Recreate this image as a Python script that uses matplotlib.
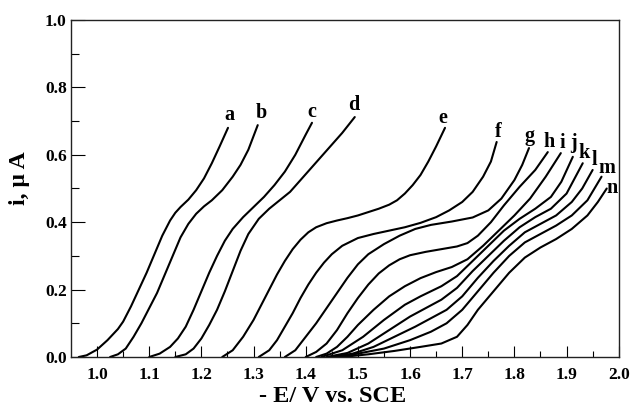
import matplotlib
matplotlib.use("Agg")
import matplotlib.pyplot as plt

# Polarographic waves a-n (potential in -V vs SCE, current in uA)
a_x = [0.965, 0.98, 1.0, 1.02, 1.04, 1.05, 1.065, 1.08, 1.095, 1.11, 1.125, 1.14, 1.15, 1.16, 1.175, 1.19,
       1.205, 1.22, 1.235, 1.251]
a_y = [0.0, 0.005, 0.022, 0.05, 0.083, 0.105, 0.15, 0.2, 0.25, 0.305, 0.36, 0.405, 0.428, 0.445, 0.467, 0.495,
       0.53, 0.575, 0.625, 0.68]

b_x = [1.025, 1.04, 1.055, 1.07, 1.085, 1.10, 1.115, 1.13, 1.145, 1.16, 1.175, 1.19, 1.205, 1.22, 1.24, 1.26,
       1.275, 1.29, 1.308]
b_y = [0.0, 0.008, 0.025, 0.06, 0.1, 0.145, 0.19, 0.245, 0.3, 0.355, 0.395, 0.425, 0.447, 0.465, 0.495, 0.535,
       0.57, 0.615, 0.688]

c_x = [1.10, 1.12, 1.14, 1.155, 1.17, 1.185, 1.20, 1.215, 1.23, 1.245, 1.26, 1.28, 1.30, 1.32, 1.34, 1.36,
       1.38, 1.40, 1.412]
c_y = [0.0, 0.01, 0.03, 0.055, 0.09, 0.14, 0.195, 0.25, 0.3, 0.345, 0.38, 0.415, 0.445, 0.475, 0.51, 0.55,
       0.6, 0.66, 0.695]

d_x = [1.15, 1.17, 1.185, 1.20, 1.215, 1.23, 1.245, 1.26, 1.275, 1.29, 1.31, 1.33, 1.35, 1.37, 1.39, 1.41,
       1.43, 1.45, 1.47, 1.494]
d_y = [0.0, 0.008, 0.025, 0.055, 0.095, 0.14, 0.195, 0.255, 0.315, 0.365, 0.41, 0.44, 0.465, 0.49, 0.525, 0.56,
       0.595, 0.63, 0.665, 0.712]

e_x = [1.24, 1.26, 1.28, 1.30, 1.315, 1.33, 1.345, 1.36, 1.375, 1.39, 1.405, 1.42, 1.44, 1.46, 1.48, 1.50,
       1.52, 1.54, 1.56, 1.575, 1.59, 1.605, 1.62, 1.635, 1.65, 1.667]
e_y = [0.0, 0.02, 0.06, 0.11, 0.155, 0.2, 0.245, 0.285, 0.32, 0.348, 0.37, 0.385, 0.397, 0.405, 0.412, 0.42,
       0.43, 0.44, 0.452, 0.465, 0.485, 0.51, 0.54, 0.58, 0.625, 0.68]

f_x = [1.31, 1.33, 1.345, 1.36, 1.375, 1.39, 1.405, 1.42, 1.435, 1.45, 1.47, 1.50, 1.53, 1.56, 1.59, 1.62,
       1.65, 1.675, 1.70, 1.72, 1.74, 1.755, 1.766]
f_y = [0.0, 0.02, 0.05, 0.09, 0.13, 0.175, 0.215, 0.25, 0.28, 0.305, 0.33, 0.353, 0.365, 0.375, 0.385, 0.398,
       0.415, 0.435, 0.46, 0.49, 0.535, 0.58, 0.638]

g_x = [1.36, 1.38, 1.40, 1.42, 1.44, 1.46, 1.48, 1.50, 1.52, 1.55, 1.58, 1.61, 1.64, 1.68, 1.72, 1.75,
       1.775, 1.80, 1.815, 1.828]
g_y = [0.0, 0.02, 0.06, 0.1, 0.145, 0.19, 0.235, 0.275, 0.305, 0.335, 0.36, 0.38, 0.392, 0.402, 0.414, 0.435,
       0.47, 0.525, 0.57, 0.62]

h_x = [1.40, 1.42, 1.44, 1.46, 1.48, 1.50, 1.52, 1.54, 1.56, 1.58, 1.60, 1.63, 1.66, 1.69, 1.71, 1.73,
       1.755, 1.78, 1.81, 1.84, 1.864]
h_y = [0.0, 0.015, 0.04, 0.08, 0.13, 0.175, 0.215, 0.248, 0.272, 0.29, 0.302, 0.312, 0.32, 0.328, 0.338, 0.36,
       0.4, 0.45, 0.505, 0.555, 0.608]

i_x = [1.42, 1.44, 1.46, 1.48, 1.50, 1.53, 1.56, 1.59, 1.62, 1.65, 1.68, 1.71, 1.74, 1.77, 1.80, 1.83,
       1.86, 1.889]
i_y = [0.0, 0.01, 0.03, 0.06, 0.095, 0.14, 0.18, 0.21, 0.234, 0.252, 0.267, 0.29, 0.33, 0.375, 0.42, 0.47,
       0.535, 0.605]

j_x = [1.43, 1.47, 1.51, 1.55, 1.59, 1.62, 1.66, 1.69, 1.72, 1.75, 1.78, 1.81, 1.84, 1.87, 1.89, 1.912]
j_y = [0.0, 0.02, 0.06, 0.11, 0.155, 0.18, 0.21, 0.24, 0.285, 0.33, 0.375, 0.41, 0.44, 0.475, 0.52, 0.594]

k_x = [1.44, 1.48, 1.52, 1.56, 1.60, 1.63, 1.66, 1.69, 1.72, 1.75, 1.78, 1.81, 1.84, 1.87, 1.90, 1.931]
k_y = [0.0, 0.012, 0.04, 0.08, 0.12, 0.145, 0.17, 0.205, 0.255, 0.3, 0.345, 0.385, 0.415, 0.44, 0.485, 0.575]

l_x = [1.45, 1.49, 1.53, 1.57, 1.61, 1.64, 1.67, 1.70, 1.73, 1.76, 1.79, 1.82, 1.85, 1.88, 1.91, 1.93, 1.95]
l_y = [0.0, 0.01, 0.03, 0.06, 0.09, 0.115, 0.14, 0.18, 0.235, 0.285, 0.33, 0.37, 0.395, 0.42, 0.46, 0.5, 0.555]

m_x = [1.46, 1.50, 1.55, 1.60, 1.64, 1.67, 1.70, 1.73, 1.76, 1.79, 1.82, 1.85, 1.88, 1.91, 1.94, 1.967]
m_y = [0.0, 0.01, 0.025, 0.05, 0.075, 0.1, 0.14, 0.195, 0.25, 0.3, 0.34, 0.365, 0.39, 0.42, 0.465, 0.535]

n_x = [1.47, 1.52, 1.57, 1.62, 1.66, 1.69, 1.71, 1.73, 1.76, 1.79, 1.82, 1.85, 1.88, 1.91, 1.94, 1.96, 1.977]
n_y = [0.0, 0.008, 0.018, 0.03, 0.04, 0.06, 0.095, 0.14, 0.195, 0.25, 0.295, 0.325, 0.35, 0.38, 0.42, 0.46, 0.5]

curves = [("a", a_x, a_y), ("b", b_x, b_y), ("c", c_x, c_y), ("d", d_x, d_y), ("e", e_x, e_y),
          ("f", f_x, f_y), ("g", g_x, g_y), ("h", h_x, h_y), ("i", i_x, i_y), ("j", j_x, j_y),
          ("k", k_x, k_y), ("l", l_x, l_y), ("m", m_x, m_y), ("n", n_x, n_y)]

# where each letter sits (baseline, data coords)
label_x = [1.253, 1.314, 1.412, 1.492, 1.663, 1.770, 1.830, 1.866, 1.891, 1.914, 1.933, 1.954, 1.977, 1.987]
label_y = [0.703, 0.709, 0.712, 0.733, 0.694, 0.653, 0.641, 0.623, 0.620, 0.620, 0.591, 0.570, 0.546, 0.487]

x_ticks = [1.0, 1.1, 1.2, 1.3, 1.4, 1.5, 1.6, 1.7, 1.8, 1.9, 2.0]
y_ticks = [0.0, 0.2, 0.4, 0.6, 0.8, 1.0]

plt.rcParams["font.family"] = ["Liberation Serif", "DejaVu Serif"]
plt.rcParams["font.weight"] = "bold"

fig = plt.figure(figsize=(6.32, 4.08), dpi=100)
ax = fig.add_axes([0.1123, 0.125, 0.8667, 0.826])

for (name, xs, ys), lx, ly in zip(curves, label_x, label_y):
    ax.plot(xs, ys, color="black", lw=1.5, solid_joinstyle="round", solid_capstyle="round")
    ax.text(lx, ly, name, ha="center", va="baseline", fontsize=14.5, fontweight="bold")

ax.set_xlim(0.95, 2.0)
ax.set_ylim(0.0, 1.0)
ax.set_xticks(x_ticks)
ax.set_xticklabels([f"{t:.1f}" for t in x_ticks])
ax.set_xticks([1.05 + 0.1 * i for i in range(10)], minor=True)
ax.set_yticks(y_ticks)
ax.set_yticklabels([f"{t:.1f}" for t in y_ticks])
ax.set_yticks([0.1, 0.3, 0.5, 0.7, 0.9], minor=True)

ax.tick_params(axis="x", which="major", direction="in", length=8, width=0.8, pad=7, labelsize=12.5)
ax.tick_params(axis="x", which="minor", direction="in", length=4, width=0.8)
ax.tick_params(axis="y", which="major", direction="in", length=10, width=0.8, pad=3, labelsize=12.5)
ax.tick_params(axis="y", which="minor", direction="in", length=6, width=0.8)
for lab in ax.get_xticklabels() + ax.get_yticklabels():
    lab.set_fontweight("bold")

for side in ["top", "right", "left", "bottom"]:
    ax.spines[side].set_linewidth(1.0)
    ax.spines[side].set_color("#222222")

ax.set_xlabel("- E/ V vs. SCE", fontsize=17.5, fontweight="bold")
ax.xaxis.set_label_coords(0.478, -0.085)
ax.set_ylabel("i, \u00b5 A", fontsize=17, fontweight="bold")
ax.yaxis.set_label_coords(-0.075, 0.53)

fig.savefig("out.png", dpi=100)
